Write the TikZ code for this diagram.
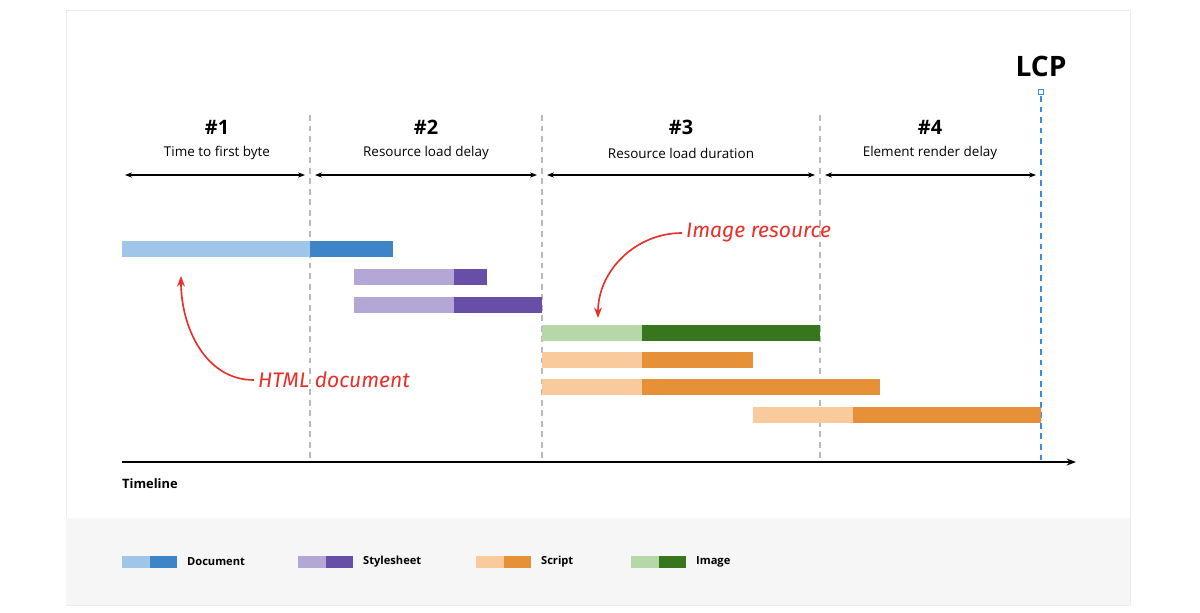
\documentclass[tikz,border=0pt]{standalone}
\usepackage{fontspec}
\setmainfont{Open Sans}
\newfontfamily\handfont{Fira Sans}
\usetikzlibrary{arrows.meta}
\definecolor{docLight}{HTML}{9FC5E8}
\definecolor{docDark}{HTML}{3D85C6}
\definecolor{cssLight}{HTML}{B4A7D6}
\definecolor{cssDark}{HTML}{674EA7}
\definecolor{jsLight}{HTML}{F9CB9C}
\definecolor{jsDark}{HTML}{E69138}
\definecolor{imgLight}{HTML}{B6D7A8}
\definecolor{imgDark}{HTML}{38761D}
\definecolor{noteRed}{HTML}{E8302A}
\definecolor{lcpBlue}{HTML}{3A8EE0}
\tikzset{
  fPhase/.style={font=\bfseries\fontsize{17}{20}\selectfont},
  fPhaseText/.style={font=\fontsize{11.5}{13}\selectfont},
  fSpan/.style={line width=1pt,{Stealth[length=6pt]}-{Stealth[length=6pt]}},
  fDivider/.style={gray!55,line width=0.9pt,dash pattern=on 5pt off 4pt},
  fNote/.style={font=\handfont\itshape\fontsize{18}{20}\selectfont,text=noteRed},
  fNoteArrow/.style={noteRed,line width=1.4pt,-{Stealth[length=9pt]}},
  fLegend/.style={font=\bfseries\fontsize{9.5}{11}\selectfont,anchor=west}
}
\newcommand{\loadbar}[5]{% y, x0, xsplit, x1, colour
  \fill[#5Light] (#2,#1-8) rectangle (#3,#1+8);
  \fill[#5Dark] (#3,#1-8) rectangle (#4,#1+8);}
\begin{document}
\begin{tikzpicture}[x=0.03cm,y=-0.03cm]
  \useasboundingbox (0,0) rectangle (1200,612);
  \draw[gray!15,fill=white] (66,10) rectangle (1130,605);
  \fill[gray!7] (66,518) rectangle (1130,605);

  % phase dividers
  \foreach \x in {310,542,820}
    \draw[fDivider] (\x,115) -- (\x,462);
  \draw[lcpBlue,line width=1.3pt,dash pattern=on 5pt off 4pt] (1041,96) -- (1041,462);
  \draw[lcpBlue,line width=1pt,fill=white] (1038.5,89.5) rectangle (1043.5,94.5);
  \node (lcp) [font=\bfseries\fontsize{24}{28}\selectfont] at (1041,66) {LCP};

  % phases
  \node (p1) [fPhase] at (217,127) {\#1};
  \node (p2) [fPhase] at (426,127) {\#2};
  \node (p3) [fPhase] at (681,127) {\#3};
  \node (p4) [fPhase] at (930,127) {\#4};
  \node (t1) [fPhaseText] at (217,153) {Time to first byte};
  \node (t2) [fPhaseText] at (426,153) {Resource load delay};
  \node (t3) [fPhaseText] at (681,153) {Resource load duration};
  \node (t4) [fPhaseText] at (930,153) {Element render delay};
  \coordinate (a0) at (125,175);  \coordinate (a1) at (305,175);
  \coordinate (b0) at (315,175);  \coordinate (b1) at (537,175);
  \coordinate (c0) at (547,175);  \coordinate (c1) at (815,175);
  \coordinate (d0) at (825,175);  \coordinate (d1) at (1036,175);
  \draw[fSpan] (a0) -- (a1);
  \draw[fSpan] (b0) -- (b1);
  \draw[fSpan] (c0) -- (c1);
  \draw[fSpan] (d0) -- (d1);

  % requests
  \loadbar{249}{122}{310}{393}{doc}
  \loadbar{277}{354}{454}{487}{css}
  \loadbar{305}{354}{454}{542}{css}
  \loadbar{333}{542}{642}{820}{img}
  \loadbar{360}{542}{642}{753}{js}
  \loadbar{387}{542}{642}{880}{js}
  \loadbar{415}{753}{853}{1041}{js}

  % timeline
  \coordinate (t0) at (122,462);
  \coordinate (tEnd) at (1076,462);
  \draw[line width=1.2pt,-{Stealth[length=8pt]}] (t0) -- (tEnd);
  \node (timeline) [font=\bfseries\fontsize{11}{13}\selectfont,anchor=west] at (118,484) {Timeline};

  % notes
  \node (imgNote) [fNote,anchor=west] at (682,233) {Image resource};
  \node (htmlNote) [fNote,anchor=west] at (254,380) {HTML document};
  \coordinate (imgTip) at (598,318);
  \coordinate (htmlTip) at (181,276);
  \draw[fNoteArrow] (imgNote.west) to[out=180,in=90] (imgTip);
  \draw[fNoteArrow] (htmlNote.west) to[out=180,in=-90] (htmlTip);

  % legend
  \foreach \x/\c/\l in {122/doc/Document,298/css/Stylesheet,476/js/Script,631/img/Image}{
    \fill[\c Light] (\x,556) rectangle (\x+28,568);
    \fill[\c Dark] (\x+28,556) rectangle (\x+55,568);
    \node[fLegend] at (\x+61,562) {\l};
  }
\end{tikzpicture}
\end{document}
